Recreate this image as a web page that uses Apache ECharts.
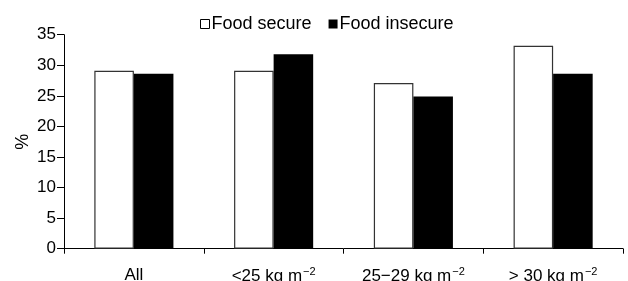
<!DOCTYPE html>
<html><head><meta charset="utf-8">
<script src="https://cdn.jsdelivr.net/npm/echarts@6/dist/echarts.min.js"></script>
<style>html,body{margin:0;padding:0;background:#fff}#c{width:628px;height:281px}</style>
</head><body><div id="c"></div>
<script>
const categories = ['All', '<25', '25−29', '> 30'];
const catSuffix = ' kg m';
const foodSecure = [29.1, 29.1, 27.1, 33.2];
const foodInsecure = [28.6, 31.8, 24.9, 28.6];
const yTicks = { min: 0, max: 35, interval: 5 };

const chart = echarts.init(document.getElementById('c'), null, { renderer: 'canvas' });
const font = 'Liberation Sans, Arial, sans-serif';
chart.setOption({
  animation: false,
  backgroundColor: '#fff',
  textStyle: { fontFamily: font },
  legend: {
    top: 10, left: 195,
    itemWidth: 9, itemHeight: 9, itemGap: 17,
    textStyle: { fontSize: 18, color: '#000', fontFamily: font, padding: [0, 0, 0, -3] },
    data: [
      { name: 'Food secure', icon: 'rect', itemStyle: { color: '#fff', borderColor: '#000', borderWidth: 1 } },
      { name: 'Food insecure', icon: 'rect', itemStyle: { color: '#000' } }
    ]
  },
  grid: { left: 64, right: 5, top: 34.7, bottom: 32.3, containLabel: false, outerBoundsMode: 'none' },
  xAxis: {
    type: 'category', data: categories,
    axisLine: { lineStyle: { color: '#000', width: 1 } },
    axisTick: { show: true, length: 5, interval: 0, alignWithLabel: false, lineStyle: { color: '#000' } },
    axisLabel: {
      interval: 0,
      color: '#000', fontSize: 17, margin: 18, fontFamily: font,
      formatter: function (v) {
        if (v === 'All') return '{n|All}';
        return '{n|' + v + catSuffix + '}{s|−2}';
      },
      rich: {
        n: { fontSize: 17, color: '#000', fontFamily: font },
        s: { fontSize: 11, color: '#000', fontFamily: font, verticalAlign: 'top', padding: [0, 0, 9, 1] }
      }
    }
  },
  yAxis: {
    type: 'value', min: yTicks.min, max: yTicks.max, interval: yTicks.interval,
    name: '%', nameLocation: 'middle', nameGap: 32, nameRotate: 90, nameMoveOverlap: false,
    nameTextStyle: { fontSize: 18, color: '#000', fontFamily: font },
    axisLine: { show: true, lineStyle: { color: '#000', width: 1 } },
    axisTick: { show: true, length: 7, lineStyle: { color: '#000' } },
    axisLabel: { color: '#000', fontSize: 17, margin: 8, fontFamily: font },
    splitLine: { show: false }
  },
  series: [
    { name: 'Food secure', type: 'bar', data: foodSecure, barWidth: '28.3%', barGap: '0%',
      itemStyle: { color: '#fff', borderColor: '#333', borderWidth: 1.2 } },
    { name: 'Food insecure', type: 'bar', data: foodInsecure, barWidth: '28.3%', barGap: '0%',
      itemStyle: { color: '#000', borderColor: '#000', borderWidth: 0 } }
  ]
});
</script></body></html>
